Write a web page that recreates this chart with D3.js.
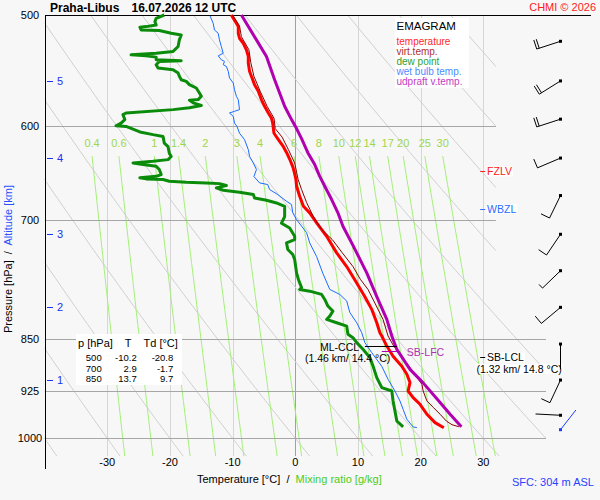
<!DOCTYPE html>
<html><head><meta charset="utf-8">
<script src="https://cdn.jsdelivr.net/npm/d3@7"></script>
<style>
html,body{margin:0;padding:0;background:#f7f7f7;}
svg{display:block;font-family:"Liberation Sans",Arial,sans-serif;}
.pre{white-space:pre;}
</style></head><body>
<svg id="c" width="600" height="500"></svg>
<script>
// ---------- data ----------
const pressureTicks = [500, 600, 700, 850, 925, 1000];
const tempTicks = [-30, -20, -10, 0, 10, 20, 30];
const mixRatios = [0.4, 0.6, 1, 1.4, 2, 3, 4, 6, 8, 10, 12, 14, 17, 20, 25, 30];
const mixLabels = ["0.4","0.6","1","1.4","2","3","4","6","8","10","12","14","17","20","25","30"];
const thetas = [-40,-30,-20,-10,0,10,20,30,40,50,60,70,80,90,100];
const altKm = [1, 2, 3, 4, 5];
const altP = [909, 807, 716, 632, 557];

const tempP = [500,502.7,506.8,509.6,515.2,519.4,523.7,529.3,535.1,540.9,548.3,552.8,560.4,566.5,574.3,580.6,587.1,592.0,597.0,602.2,606.8,613.2,620.3,626.2,633.0,641.9,648.6,654.6,661.8,672.7,683.9,691.3,702.7,718.3,738.1,754.8,775.4,793.0,809.7,827.6,841.2,845.8,859.8,874.3,888.8,900.5,912.8,925.5,935.5,945.8,961.4,974.6,983];
const tempT = [-10.2,-9.9,-9.4,-9.1,-9.1,-8.9,-8.3,-7.8,-7.5,-7.5,-7.3,-7.0,-6.5,-5.9,-5.4,-4.9,-4.3,-3.8,-3.6,-3.5,-3.4,-2.7,-1.9,-1.4,-0.9,-0.35,-0.1,0.1,0.2,0.7,1.3,2.3,3.4,5.0,6.6,8.2,9.8,11.1,12.2,13.0,13.5,13.8,14.6,15.6,17.0,17.8,18.3,18.0,18.8,19.9,21.0,22.3,23.7];

const virtP = [500,509.0,518.1,529.3,540.6,552.8,566.5,580.6,592.0,602.2,610.7,623.3,637.1,654.6,665.4,679.7,694.4,710.4,722.2,738.1,754.8,771.0,783.7,801.4,823.1,845.8,859.8,871.5,890.3,905.0,915.3,925.5,940.7,950.5,961.4,972.1,978.0,981.2];
const virtT = [-10.0,-8.9,-8.6,-7.4,-7.1,-6.6,-5.6,-4.5,-3.4,-3.2,-2.1,-1.1,-0.1,0.45,1.0,1.8,2.8,4.2,5.9,7.5,9.2,10.4,11.6,12.7,14.0,14.8,15.7,16.7,18.3,19.4,20.2,20.4,21.0,22.0,23.1,24.1,25.0,26.1];

const dewP = [500,502.7,505.5,508.3,509.6,510.1,512.4,512.9,515.2,516.6,520.8,526.5,530.7,532.3,533.7,534.6,535.7,538.0,538.9,539.5,542.4,545.3,546.9,549.8,552.8,555.9,557.4,560.4,563.5,568.1,571.2,574.3,574.8,577.4,579.9,582.1,583.8,587.0,588.6,593.4,596.8,599.4,600.1,605.5,608.2,610.0,616.8,620.3,627.1,630.4,633.6,635.4,637.1,638.8,640.5,644.0,649.3,651.2,652.8,653.9,654.6,656.4,657.5,658.2,659.0,661.1,663.6,666.2,668.4,670.9,674.6,677.2,680.2,683.9,695.5,703.1,708.7,718.3,722.2,726.2,734.1,740.1,746.2,762.7,771.0,775.3,781.2,783.7,785.9,790.1,796.6,805.3,812.0,818.7,823.1,827.6,832.2,843.5,848.1,855.0,864.4,876.2,888.3,905.4,920.4,925.5,940.7,956.3,972.1,981.6];
const dewT = [-20.9,-22.2,-22.4,-22.2,-23.8,-24.8,-24.6,-21.7,-19.8,-18.2,-18.5,-18.7,-19.5,-22.2,-26.2,-23.8,-22.2,-22.2,-18.2,-21.7,-22.2,-21.9,-19.5,-18.7,-18.5,-18.2,-17.4,-16.9,-15.8,-15.3,-15.0,-15.5,-16.9,-16.3,-15.0,-16.9,-19.5,-27.0,-27.5,-27.2,-27.8,-28.6,-27.0,-24.8,-22.7,-21.1,-20.9,-20.3,-20.1,-19.8,-20.3,-22.7,-25.9,-24.3,-22.2,-21.7,-21.4,-22.2,-24.8,-23.8,-21.1,-20.1,-17.4,-14.2,-12.1,-11.0,-12.6,-11.5,-8.9,-6.7,-6.5,-4.6,-3.0,-1.7,-1.7,-2.2,-0.9,-0.1,-0.1,-1.4,-1.2,-0.4,-0.1,0.2,0.5,0.7,1.0,0.7,2.3,4.2,4.7,5.2,6.0,5.5,5.0,6.6,8.2,8.4,9.2,9.8,10.8,11.9,12.4,13.0,13.8,15.4,15.6,15.9,16.2,17.2];

const wbP = [500.8,506.8,512.4,515.2,520.8,526.5,532.3,534.6,538.0,539.5,542.4,543.9,548.3,554.3,558.9,565.0,571.2,574.3,583.8,585.4,587.0,590.3,596.8,600.1,606.8,613.2,623.3,630.2,637.1,644.0,651.4,658.2,660.0,665.4,670.9,678.3,682.0,691.3,698.9,706.6,714.1,726.2,742.6,763.4,783.7,790.1,798.7,813.8,827.6,841.2,855.0,869.1,888.8,907.9,925.5,940.7,953.6,969.3,981.6,982.6];
const wbT = [-13.6,-13.1,-12.9,-12.3,-12.1,-11.8,-11.5,-12.3,-11.8,-11.3,-11.5,-11.0,-10.7,-10.5,-9.9,-9.7,-9.4,-9.1,-8.9,-9.7,-10.5,-9.9,-9.7,-9.3,-8.9,-8.1,-7.5,-7.3,-6.7,-6.2,-6.6,-5.7,-4.4,-4.1,-2.8,-1.4,-0.6,-0.4,0.2,1.0,1.8,2.3,3.4,4.4,5.5,7.1,8.2,8.7,9.8,10.6,11.1,12.2,13.8,14.8,15.9,16.7,17.2,17.8,18.8,19.4];

const updP = [500,520.8,535.1,555.9,568.1,580.6,593.4,602.2,612.2,626.4,638.8,651.2,661.8,676.4,691.3,706.6,729.1,762.7,793.0,823.1,845.8,864.4,893.2,913.2,943.2,961.4,981.2];
const updT = [-8.6,-6.2,-4.6,-3.3,-2.5,-1.7,-0.6,0.2,1.0,2.0,3.1,3.9,4.7,5.8,6.8,7.6,9.2,11.4,13.0,14.6,15.4,16.2,18.3,20.4,23.1,24.7,26.5];

const windP = [522, 557, 593, 632, 672, 716, 760, 807, 857, 909, 963];
const windDir = [252, 238, 252, 247, 206, 214, 226, 230, 180, 205, 273];
const windSpd = [20, 20, 20, 10, 10, 10, 5, 10, 0, 10, 0];
const sfcWindP = 986, sfcWindDir = 38, sfcWindSpd = 0;

const tableP = ["500", "700", "850"];
const tableT = ["-10.2", "2.9", "13.7"];
const tableTd = ["-20.8", "-1.7", "9.7"];

const levelNames = ["FZLV", "WBZL"];
const levelP = [646, 687];

const legendNames = ["temperature", "virt.temp.", "dew point", "wet bulb temp.", "udpraft v.temp."];

// ---------- scales ----------
const svg = d3.select("#c");
const x = d3.scaleLinear().domain([-40, 40]).range([44.6, 546]);
const y = d3.scaleLog().domain([500, 1030]).range([15, 15 + 610.7 * Math.log(1030 / 500)]);
const px = v => Math.round(x(v)) + 0.5;
const py = v => Math.round(y(v)) + 0.5;

svg.append("rect").attr("width", 600).attr("height", 500).attr("fill", "#f7f7f7");

// clip region of the diagram
const clipPts = [[-40,500],[32,500],[32,810],[40,810],[40,1030],[-40,1030]];
svg.append("clipPath").attr("id", "pa").append("path")
  .attr("d", "M" + clipPts.map(d => [x(d[0]), y(d[1])].join(",")).join("L") + "Z");

const grid = svg.append("g").attr("clip-path", "url(#pa)");

// vertical isotherms
grid.selectAll(".iso").data(tempTicks).join("line")
  .attr("x1", d => px(d)).attr("x2", d => px(d))
  .attr("y1", y(500)).attr("y2", y(1030))
  .attr("stroke", d => d === 0 ? "#a0a0a0" : "#d6d6d6").attr("stroke-width", 1);

// dry adiabats
const adP = d3.range(500, 1031, 5);
const lineTP = d3.line().x(d => x(d[1])).y(d => y(d[0]));
grid.selectAll(".ad").data(thetas).join("path")
  .attr("d", th => lineTP(adP.map(p => [p, (th + 273.15) * Math.pow(p / 1000, 0.2857) - 273.15])))
  .attr("fill", "none").attr("stroke", "#cfcfcf").attr("stroke-width", 1);

// mixing ratio lines
function tdFromW(w, p) {
  const e = w * p / (622 + w);
  const l = Math.log(e / 6.112);
  return 243.5 * l / (17.67 - l);
}
const mixTop = 630;
grid.selectAll(".mr").data(mixRatios).join("path")
  .attr("d", w => lineTP(d3.range(mixTop, 1031, 10).map(p => [p, tdFromW(w, p)])))
  .attr("fill", "none").attr("stroke", "#a4ef78").attr("stroke-width", 1);

// pressure lines
grid.selectAll(".pl").data(pressureTicks.slice(1)).join("line")
  .attr("x1", x(-40)).attr("x2", x(40))
  .attr("y1", d => py(d)).attr("y2", d => py(d))
  .attr("stroke", "#a6a6a6").attr("stroke-width", 1);

// mixing ratio labels
svg.selectAll(".mrl").data(mixRatios).join("text")
  .attr("x", w => x(tdFromW(w, mixTop))).attr("y", y(mixTop) - 9.5)
  .attr("text-anchor", "middle").attr("font-size", 11).attr("fill", "#9ed64c")
  .text((w, i) => mixLabels[i]);

// axes lines
svg.append("line").attr("x1", 45.5).attr("x2", 45.5).attr("y1", 15).attr("y2", 469)
  .attr("stroke", "#000").attr("stroke-width", 1);
svg.append("line").attr("x1", 45).attr("x2", 591).attr("y1", 15.5).attr("y2", 15.5)
  .attr("stroke", "#000").attr("stroke-width", 1);

// pressure tick labels
svg.selectAll(".ptl").data(pressureTicks).join("text")
  .attr("x", 30).attr("y", d => y(d) + 4).attr("text-anchor", "middle")
  .attr("font-size", 11).attr("fill", "#000").text(d => d);

// temperature tick labels
svg.selectAll(".ttl").data(tempTicks).join("text")
  .attr("x", d => x(d)).attr("y", 466).attr("text-anchor", "middle")
  .attr("font-size", 11).attr("fill", "#000").text(d => d);

// altitude ticks
altKm.forEach((k, i) => {
  svg.append("line").attr("x1", 47).attr("x2", 53).attr("y1", py(altP[i])).attr("y2", py(altP[i]))
    .attr("stroke", "#2030f0").attr("stroke-width", 1);
  svg.append("text").attr("x", 57).attr("y", y(altP[i]) + 4).attr("font-size", 11)
    .attr("fill", "#2030f0").text(k);
});

// ---------- curves ----------
const curve = (P, T, color, w) => svg.append("path")
  .attr("d", lineTP(d3.zip(P, T))).attr("fill", "none")
  .attr("stroke", color).attr("stroke-width", w).attr("stroke-linejoin", "round");
curve(wbP, wbT, "#1a6cff", 1);
curve(dewP, dewT, "#0a8c0a", 3);
curve(tempP, tempT, "#ff0000", 3);
curve(virtP, virtT, "#8a0000", 1);
curve(updP, updT, "#b000b0", 3);

// ---------- level labels ----------
function boxText(tx, ty, txt, color, size, box) {
  const t = svg.append("text").attr("x", tx).attr("y", ty).attr("font-size", size)
    .attr("fill", color).text(txt);
  if (box) {
    const b = t.node().getBBox();
    svg.insert("rect", () => t.node()).attr("x", b.x - 1).attr("y", b.y + 1)
      .attr("width", b.width + 2).attr("height", b.height - 2).attr("fill", "#fff");
  }
  return t;
}
const levelColors = ["#ff2020", "#2a6cff"];
levelNames.forEach((n, i) => {
  svg.append("line").attr("x1", x(29.5)).attr("x2", x(30.3)).attr("y1", py(levelP[i])).attr("y2", py(levelP[i]))
    .attr("stroke", levelColors[i]);
  boxText(x(30.6), y(levelP[i]) + 4, n, levelColors[i], 10.5, true);
});

// SB-LCL
const lclP = 876;
svg.append("line").attr("x1", x(29.5)).attr("x2", x(30.3)).attr("y1", py(lclP)).attr("y2", py(lclP)).attr("stroke", "#000");
boxText(x(30.6), y(lclP) + 4, "SB-LCL", "#000", 10.5, true);
boxText(x(28.9), y(lclP) + 15.5, "(1.32 km/ 14.8 °C)", "#000", 10.5, true);

// ML-CCL
const cclP = 860;
svg.append("line").attr("x1", x(11.1)).attr("x2", x(16.2)).attr("y1", py(cclP)).attr("y2", py(cclP)).attr("stroke", "#000");
boxText(320, y(cclP) + 5, "ML-CCL", "#000", 10.5, false);
boxText(305, y(cclP) + 16, "(1.46 km/ 14.4 °C)", "#000", 10.5, false);

// SB-LFC
const lfcP = 867;
svg.append("line").attr("x1", x(13.8)).attr("x2", x(16.7)).attr("y1", py(lfcP)).attr("y2", py(lfcP)).attr("stroke", "#b000b0");
boxText(x(17.8), y(lfcP) + 4.5, "SB-LFC", "#b030b0", 10.5, false);

// ---------- table ----------
svg.append("rect").attr("x", 76).attr("y", 334).attr("width", 106).attr("height", 51).attr("fill", "#fff");
svg.append("text").attr("x", 78).attr("y", 347).attr("font-size", 11).text("p [hPa]");
svg.append("text").attr("x", 128).attr("y", 347).attr("font-size", 11).attr("text-anchor", "middle").text("T");
svg.append("text").attr("x", 143.5).attr("y", 347).attr("font-size", 11).text("Td [°C]");
tableP.forEach((p, i) => {
  const yy = 361.3 + i * 10.4;
  svg.append("text").attr("x", 101.7).attr("y", yy).attr("font-size", 9.5).attr("text-anchor", "end").text(p);
  svg.append("text").attr("x", 136.7).attr("y", yy).attr("font-size", 9.5).attr("text-anchor", "end").text(tableT[i]);
  svg.append("text").attr("x", 173.3).attr("y", yy).attr("font-size", 9.5).attr("text-anchor", "end").text(tableTd[i]);
});

// ---------- legend ----------
svg.append("rect").attr("x", 395).attr("y", 18).attr("width", 74).attr("height", 70).attr("fill", "#fff");
svg.append("text").attr("x", 396.5).attr("y", 29.8).attr("font-size", 11.5).attr("fill", "#000").text("EMAGRAM");
const legendColors = ["#ff2a2a", "#b03030", "#2ea02e", "#4a8cff", "#c23cc2"];
legendNames.forEach((n, i) => {
  svg.append("text").attr("x", 396.5).attr("y", 45.3 + i * 10).attr("font-size", 10)
    .attr("fill", legendColors[i]).text(n);
});

// ---------- wind barbs ----------
function barb(p, dir, spd, color) {
  const x0 = 560.5, y0 = y(p), L = 25, r = dir * Math.PI / 180;
  const ux = Math.sin(r), uy = -Math.cos(r);
  const tx = x0 + ux * L, ty = y0 + uy * L;
  const g = svg.append("g").attr("stroke", color).attr("stroke-width", 1).attr("fill", "none");
  g.append("line").attr("x1", x0).attr("y1", y0).attr("x2", tx).attr("y2", ty);
  const fx = -uy, fy = ux;
  let n10 = Math.floor(spd / 10), n5 = Math.floor((spd % 10) / 5), pos = 0;
  for (let i = 0; i < n10; i++) {
    const bx = tx - ux * pos, by = ty - uy * pos;
    g.append("line").attr("x1", bx).attr("y1", by).attr("x2", bx + fx * 9.5).attr("y2", by + fy * 9.5);
    pos += 2.6;
  }
  for (let i = 0; i < n5; i++) {
    const bx = tx - ux * pos, by = ty - uy * pos;
    g.append("line").attr("x1", bx).attr("y1", by).attr("x2", bx + fx * 5).attr("y2", by + fy * 5);
  }
  svg.append("rect").attr("x", x0 - 1.5).attr("y", y0 - 1.5).attr("width", 3).attr("height", 3).attr("fill", color);
}
windP.forEach((p, i) => barb(p, windDir[i], windSpd[i], "#000"));
barb(sfcWindP, sfcWindDir, sfcWindSpd, "#1a3cff");

// ---------- titles ----------
svg.append("text").attr("x", 50).attr("y", 12).attr("font-size", 12).attr("font-weight", "bold").text("Praha-Libus");
svg.append("text").attr("x", 131.5).attr("y", 12).attr("font-size", 12).attr("font-weight", "bold").text("16.07.2026 12 UTC");
svg.append("text").attr("x", 596).attr("y", 11).attr("font-size", 11).attr("text-anchor", "end").attr("fill", "#ff2020").text("CHMI © 2026");

const yl = svg.append("text").attr("class", "pre").attr("transform", "translate(12,333) rotate(-90)").attr("font-size", 11);
yl.append("tspan").attr("fill", "#000").text("Pressure [hPa]  /  ");
yl.append("tspan").attr("fill", "#2a50ff").text("Altitude [km]");

const xl = svg.append("text").attr("class", "pre").attr("x", 197).attr("y", 483).attr("font-size", 11);
xl.append("tspan").attr("fill", "#000").text("Temperature [°C]  /  ");
xl.append("tspan").attr("fill", "#4ccc22").text("Mixing ratio [g/kg]");

svg.append("text").attr("x", 512).attr("y", 485.5).attr("font-size", 11).attr("fill", "#2a40ff").text("SFC: 304 m ASL");
</script>
</body></html>
